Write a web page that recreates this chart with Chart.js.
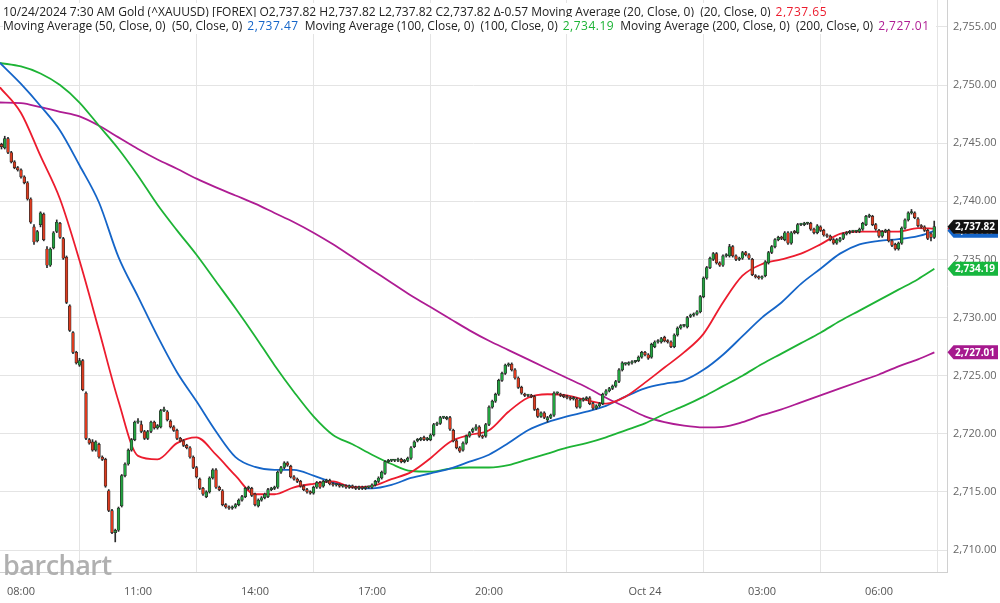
<!DOCTYPE html>
<html>
<head>
<meta charset="utf-8">
<script src="https://cdn.jsdelivr.net/npm/chart.js@4.4.1/dist/chart.umd.min.js"></script>
<style>
  html, body { margin: 0; padding: 0; background: #fff; }
  #wrap { position: relative; width: 1000px; height: 603px; overflow: hidden; }
  #legend { position: absolute; left: 3px; top: 5px; z-index: 2; font: 12px "Open Sans", sans-serif; color: #222; line-height: 14px; white-space: nowrap; }
  #legend div span.line { background: #fff; }
  #legend span.val { margin: 0 6px 0 5px; letter-spacing: 0.5px; }
  #logo { position: absolute; left: 3px; top: 546px; z-index: 2; font: 600 27px "Open Sans", sans-serif; color: #b0b0b0; letter-spacing: -0.5px; }
</style>
</head>
<body>
<div id="wrap">
  <canvas id="chart"></canvas>
  <div id="legend"></div>
  <div id="logo">barchart</div>
</div>
<script>
// 5-minute candles, 07:30 -> 07:25 next day (hours counted from 08:00 on 10/23)
const FIRST_CANDLE = -0.5;
const CANDLE_STEP = 5 / 60;

const opens = [
  2744.9,2744.6,2745.4,2744.2,2743.4,2742.9,2742.7,2742.1,2741.6,2740.2,
  2737.8,2736.6,2738.0,2738.9,2735.9,2734.5,2736.0,2737.4,2738.1,2736.8,
  2735.2,2731.0,2728.7,2727.0,2725.9,2726.3,2723.5,2719.5,2719.3,2718.6,
  2719.1,2718.0,2717.8,2715.1,2713.4,2711.5,2711.7,2713.8,2716.4,2717.4,
  2718.6,2719.5,2721.0,2720.8,2720.2,2719.6,2720.2,2721.0,2720.5,2720.6,
  2722.0,2721.9,2721.1,2720.6,2720.3,2719.6,2719.4,2719.0,2718.8,2718.0,
  2717.1,2716.1,2715.3,2714.6,2715.0,2716.2,2716.9,2715.4,2715.1,2713.9,
  2713.7,2713.6,2713.7,2713.9,2714.3,2714.6,2715.3,2715.3,2714.8,2713.8,
  2714.3,2714.5,2714.6,2715.2,2715.3,2715.4,2716.7,2717.1,2717.5,2717.2,
  2716.3,2716.1,2715.9,2715.5,2715.2,2715.0,2714.9,2715.4,2715.8,2715.5,
  2715.9,2716.0,2715.7,2715.6,2715.6,2715.5,2715.5,2715.4,2715.5,2715.4,
  2715.3,2715.4,2715.3,2715.4,2715.4,2715.6,2715.9,2716.2,2716.6,2717.6,
  2717.7,2717.7,2717.7,2717.8,2717.6,2717.7,2717.9,2718.9,2719.4,2719.5,
  2719.7,2719.5,2719.5,2719.9,2720.8,2720.9,2721.4,2721.3,2721.4,2720.3,
  2719.4,2718.8,2718.6,2719.2,2719.8,2720.2,2720.4,2720.6,2719.8,2719.8,
  2720.8,2722.3,2722.8,2723.4,2724.6,2725.2,2725.9,2726.0,2725.5,2724.8,
  2724.0,2723.4,2723.3,2723.3,2723.2,2722.1,2721.5,2721.8,2721.2,2721.4,
  2721.6,2723.5,2723.4,2723.3,2723.2,2723.1,2723.0,2723.0,2722.3,2722.9,
  2723.0,2723.1,2722.6,2722.2,2722.4,2722.6,2723.4,2723.7,2723.9,2724.1,
  2724.5,2725.5,2726.0,2726.0,2726.1,2726.2,2726.3,2726.6,2727.0,2726.8,
  2726.6,2727.5,2727.9,2727.9,2728.3,2728.0,2727.9,2727.5,2728.5,2729.1,
  2729.3,2729.2,2730.1,2730.2,2730.3,2730.5,2731.8,2733.4,2734.3,2735.0,
  2735.5,2734.7,2734.5,2735.3,2735.3,2736.1,2735.3,2735.0,2735.1,2735.6,
  2735.4,2735.0,2733.6,2733.5,2733.4,2733.6,2734.7,2735.6,2736.1,2736.7,
  2736.9,2736.7,2737.3,2736.4,2737.4,2737.3,2738.0,2738.0,2738.1,2738.1,
  2737.6,2737.3,2737.8,2737.5,2737.1,2737.0,2736.7,2736.4,2736.6,2736.8,
  2737.2,2737.3,2737.4,2737.4,2737.4,2737.6,2738.0,2738.7,2738.7,2738.0,
  2737.5,2737.0,2737.4,2737.5,2736.6,2736.3,2735.9,2736.4,2737.7,2738.4,
  2739.0,2739.0,2738.5,2737.9,2737.8,2737.5,2737.2,2736.9
];
const highs = [
  2745.0,2745.6,2745.5,2744.3,2743.5,2743.0,2742.8,2742.2,2741.7,2740.3,
  2738.0,2737.5,2739.1,2739.0,2736.1,2736.0,2737.4,2738.4,2738.2,2736.9,
  2735.3,2731.1,2728.8,2727.1,2726.5,2726.4,2723.6,2719.6,2719.5,2719.4,
  2719.2,2718.1,2717.9,2715.2,2713.5,2711.8,2713.7,2716.5,2717.5,2718.7,
  2719.6,2721.1,2721.3,2721.1,2720.3,2720.3,2721.1,2721.1,2720.8,2722.1,
  2722.3,2722.0,2721.2,2720.7,2720.4,2719.7,2719.5,2719.1,2718.9,2718.1,
  2717.2,2716.2,2715.4,2715.1,2716.3,2717.0,2717.0,2715.5,2715.2,2714.0,
  2713.8,2713.8,2714.0,2714.4,2714.7,2715.4,2715.5,2715.4,2714.9,2714.4,
  2714.6,2714.9,2715.3,2715.4,2715.5,2716.8,2717.2,2717.6,2717.6,2717.3,
  2716.4,2716.2,2716.0,2715.6,2715.3,2715.1,2715.5,2715.9,2715.9,2716.0,
  2716.1,2716.1,2715.8,2715.7,2715.7,2715.6,2715.6,2715.6,2715.6,2715.5,
  2715.5,2715.5,2715.5,2715.5,2715.7,2716.0,2716.3,2716.8,2717.7,2717.8,
  2717.8,2717.8,2717.9,2717.9,2717.8,2718.0,2718.9,2719.4,2719.6,2719.7,
  2719.8,2719.7,2720.0,2720.9,2721.0,2721.5,2721.5,2721.5,2721.5,2720.4,
  2719.5,2718.9,2719.3,2719.9,2720.2,2720.5,2720.8,2720.7,2719.9,2720.9,
  2722.4,2722.9,2723.5,2724.7,2725.3,2726.0,2726.1,2726.1,2725.6,2724.9,
  2724.1,2723.5,2723.4,2723.4,2723.3,2722.2,2721.9,2721.9,2721.5,2721.7,
  2723.6,2723.6,2723.5,2723.4,2723.3,2723.2,2723.2,2723.1,2723.0,2723.1,
  2723.2,2723.2,2722.7,2722.5,2722.7,2723.5,2723.8,2724.0,2724.2,2724.6,
  2725.6,2726.2,2726.1,2726.2,2726.3,2726.3,2726.7,2727.1,2727.1,2726.9,
  2727.8,2728.0,2728.1,2728.3,2728.4,2728.1,2728.0,2728.6,2729.2,2729.4,
  2729.4,2730.1,2730.3,2730.4,2730.6,2731.9,2733.5,2734.4,2735.2,2735.6,
  2735.6,2734.8,2735.4,2735.5,2736.3,2736.2,2735.4,2735.2,2735.7,2735.7,
  2735.5,2735.1,2733.7,2733.6,2733.6,2734.9,2735.7,2736.2,2736.8,2737.0,
  2737.0,2737.4,2737.4,2737.4,2737.5,2738.1,2738.1,2738.2,2738.2,2738.2,
  2737.7,2738.0,2737.9,2737.6,2737.2,2737.1,2736.8,2736.8,2736.9,2737.3,
  2737.4,2737.5,2737.5,2737.5,2737.7,2738.2,2738.8,2738.9,2738.8,2738.1,
  2737.6,2737.5,2737.6,2737.6,2736.7,2736.4,2736.5,2737.8,2738.5,2739.1,
  2739.3,2739.1,2738.6,2738.0,2737.9,2737.6,2737.3,2738.3
];
const lows = [
  2744.5,2744.5,2744.1,2743.3,2742.8,2742.6,2742.0,2741.5,2740.1,2738.1,
  2736.3,2736.5,2737.8,2736.6,2734.3,2734.4,2735.9,2737.3,2736.8,2735.0,
  2731.2,2728.8,2726.9,2726.0,2725.8,2723.7,2719.5,2719.1,2718.5,2718.5,
  2717.9,2717.7,2715.4,2713.3,2711.4,2710.7,2711.6,2713.7,2716.3,2717.3,
  2718.5,2719.4,2720.9,2720.1,2719.5,2719.5,2720.1,2720.4,2720.4,2720.5,
  2721.9,2721.1,2720.5,2720.2,2719.5,2719.3,2718.9,2718.7,2717.9,2717.0,
  2716.2,2715.2,2714.7,2714.5,2714.9,2716.1,2715.3,2715.1,2713.8,2713.6,
  2713.5,2713.5,2713.6,2713.8,2714.2,2714.5,2715.2,2714.6,2713.8,2713.7,
  2714.2,2714.4,2714.5,2715.1,2715.2,2715.3,2716.6,2717.0,2717.2,2716.2,
  2716.0,2715.8,2715.4,2715.1,2714.9,2714.8,2714.8,2715.3,2715.3,2715.4,
  2715.8,2715.6,2715.5,2715.5,2715.4,2715.4,2715.3,2715.3,2715.3,2715.2,
  2715.2,2715.2,2715.2,2715.3,2715.3,2715.5,2715.8,2716.1,2716.5,2717.5,
  2717.6,2717.6,2717.6,2717.5,2717.5,2717.6,2717.8,2718.8,2719.3,2719.4,
  2719.4,2719.4,2719.4,2719.8,2720.7,2720.8,2721.3,2721.2,2720.3,2719.3,
  2718.7,2718.4,2718.5,2719.1,2719.7,2720.1,2720.3,2719.7,2719.6,2719.7,
  2720.7,2722.2,2722.7,2723.3,2724.5,2725.1,2725.8,2725.4,2724.7,2723.9,
  2723.4,2723.2,2723.2,2723.1,2722.0,2721.4,2721.4,2721.3,2721.0,2721.3,
  2721.5,2723.4,2723.2,2723.1,2723.0,2722.9,2722.9,2722.2,2722.2,2722.8,
  2722.9,2722.5,2722.1,2722.1,2722.3,2722.5,2723.3,2723.6,2723.8,2724.0,
  2724.4,2725.4,2725.9,2725.9,2726.0,2726.1,2726.2,2726.5,2726.7,2726.4,
  2726.5,2727.4,2727.8,2727.8,2727.9,2727.8,2727.4,2727.4,2728.4,2729.0,
  2729.2,2729.1,2730.0,2730.1,2730.2,2730.4,2731.7,2733.3,2734.2,2734.9,
  2734.6,2734.4,2734.4,2735.2,2735.2,2735.2,2734.9,2734.9,2735.0,2735.3,
  2735.0,2733.6,2733.4,2733.3,2733.3,2733.5,2734.6,2735.5,2736.0,2736.6,
  2736.7,2736.6,2736.3,2736.3,2737.2,2737.2,2737.9,2737.9,2738.0,2737.5,
  2737.2,2737.2,2737.4,2737.0,2736.9,2736.6,2736.3,2736.3,2736.5,2736.7,
  2737.1,2737.2,2737.3,2737.3,2737.3,2737.5,2737.9,2738.6,2737.9,2737.5,
  2736.9,2736.9,2737.3,2736.5,2736.1,2735.8,2735.8,2736.3,2737.6,2738.3,
  2738.9,2738.5,2737.8,2737.7,2737.4,2736.7,2736.6,2736.8
];
const closes = [
  2744.7,2745.4,2744.2,2743.4,2742.9,2742.7,2742.1,2741.6,2740.2,2738.2,
  2736.5,2737.4,2739.0,2736.7,2734.5,2735.9,2737.3,2738.2,2736.9,2735.1,
  2731.3,2728.9,2727.0,2726.1,2726.3,2723.8,2719.6,2719.2,2718.6,2719.3,
  2718.0,2717.8,2715.5,2713.4,2711.5,2711.7,2713.6,2716.4,2717.4,2718.6,
  2719.5,2721.0,2721.1,2720.2,2719.6,2720.2,2721.0,2720.5,2720.7,2722.0,
  2722.1,2721.2,2720.6,2720.3,2719.6,2719.4,2719.0,2718.8,2718.0,2717.1,
  2716.3,2715.3,2714.8,2715.0,2716.2,2716.9,2715.4,2715.2,2713.9,2713.7,
  2713.6,2713.7,2713.9,2714.3,2714.6,2715.3,2715.4,2714.7,2713.9,2714.3,
  2714.5,2714.8,2715.2,2715.3,2715.4,2716.7,2717.1,2717.5,2717.3,2716.3,
  2716.1,2715.9,2715.5,2715.2,2715.0,2714.9,2715.4,2715.8,2715.4,2715.9,
  2716.0,2715.7,2715.6,2715.6,2715.5,2715.5,2715.4,2715.5,2715.4,2715.3,
  2715.4,2715.3,2715.4,2715.4,2715.6,2715.9,2716.2,2716.7,2717.6,2717.7,
  2717.7,2717.7,2717.8,2717.6,2717.7,2717.9,2718.8,2719.3,2719.5,2719.6,
  2719.5,2719.6,2719.9,2720.8,2720.9,2721.4,2721.4,2721.4,2720.4,2719.4,
  2718.8,2718.5,2719.2,2719.8,2720.1,2720.4,2720.6,2719.8,2719.7,2720.8,
  2722.3,2722.8,2723.4,2724.6,2725.2,2725.9,2726.0,2725.5,2724.8,2724.0,
  2723.5,2723.3,2723.3,2723.2,2722.1,2721.5,2721.8,2721.4,2721.4,2721.6,
  2723.5,2723.5,2723.3,2723.2,2723.1,2723.0,2723.1,2722.3,2722.9,2723.0,
  2723.1,2722.6,2722.2,2722.4,2722.6,2723.4,2723.7,2723.9,2724.1,2724.5,
  2725.5,2726.1,2726.0,2726.1,2726.2,2726.2,2726.6,2727.0,2726.8,2726.5,
  2727.7,2727.9,2728.0,2728.2,2728.0,2727.9,2727.5,2728.5,2729.1,2729.3,
  2729.3,2730.0,2730.2,2730.3,2730.5,2731.8,2733.4,2734.3,2735.1,2735.5,
  2734.7,2734.5,2735.3,2735.4,2736.1,2735.3,2735.0,2735.1,2735.6,2735.4,
  2735.1,2733.7,2733.5,2733.4,2733.5,2734.8,2735.6,2736.1,2736.7,2736.9,
  2736.8,2737.3,2736.4,2737.3,2737.3,2738.0,2738.0,2738.1,2738.1,2737.6,
  2737.3,2737.9,2737.5,2737.1,2737.0,2736.7,2736.4,2736.7,2736.8,2737.2,
  2737.3,2737.4,2737.4,2737.4,2737.6,2738.1,2738.7,2738.7,2738.0,2737.6,
  2737.0,2737.4,2737.5,2736.6,2736.2,2735.9,2736.4,2737.7,2738.4,2739.0,
  2739.1,2738.6,2737.9,2737.8,2737.5,2736.8,2736.9,2737.82
];

// Moving averages at half-hour steps
const maTimes = [-0.54,0,0.5,1,1.5,2,2.5,3,3.5,4,4.5,5,5.5,6,6.5,7,7.5,8,8.5,9,9.5,10,10.5,11,11.5,12,
  12.5,13,13.5,14,14.5,15,15.5,16,16.5,17,17.5,18,18.5,19,19.5,20,20.5,21,21.5,22,22.5,23,23.42];
const ma20 = [2749.8,2747.6,2743.9,2740.2,2734.9,2728.9,2722.8,2718.1,2717.8,2719.2,2719.7,2718.2,2716.4,
  2714.8,2714.8,2715.4,2715.7,2715.9,2715.4,2715.5,2716.1,2716.7,2717.9,2719.3,2719.9,2720.3,2721.9,2723.1,
  2723.4,2723.3,2722.9,2722.6,2723.2,2724.4,2725.7,2727.0,2728.6,2731.3,2733.6,2734.6,2735.0,2735.5,2736.3,
  2737.2,2737.4,2737.4,2737.4,2737.7,2737.65];
const ma50 = [2751.9,2750.1,2748.2,2746.1,2743.1,2739.9,2735.2,2731.8,2728.4,2725.3,2722.8,2720.2,2718.0,
  2717.15,2716.9,2716.9,2716.4,2715.8,2715.45,2715.3,2715.6,2716.2,2716.6,2717.0,2717.6,2718.2,2719.2,2720.3,
  2721.0,2721.5,2721.9,2722.4,2723.2,2723.9,2724.3,2724.6,2725.5,2726.8,2728.4,2730.0,2731.3,2732.9,2734.2,
  2735.5,2736.3,2736.6,2736.75,2737.0,2737.45];
const ma100 = [2751.9,2751.6,2751.0,2750.0,2748.5,2746.5,2744.5,2742.2,2739.7,2737.5,2735.4,2733.1,2730.8,
  2728.4,2725.9,2723.6,2721.5,2719.9,2719.1,2718.2,2717.4,2716.8,2716.75,2717.0,2717.1,2717.1,2717.3,2717.8,
  2718.3,2718.8,2719.2,2719.7,2720.3,2720.9,2721.7,2722.4,2723.2,2724.1,2725.0,2726.0,2726.9,2727.8,2728.7,
  2729.7,2730.6,2731.5,2732.4,2733.3,2734.19];
const ma200 = [2748.5,2748.45,2748.1,2747.7,2747.3,2746.5,2745.5,2744.5,2743.6,2742.8,2741.95,2741.2,2740.5,
  2739.8,2739.0,2738.2,2737.3,2736.3,2735.2,2734.1,2733.0,2731.9,2730.9,2729.9,2728.9,2728.0,2727.2,2726.4,
  2725.6,2724.8,2724.0,2723.1,2722.3,2721.5,2721.0,2720.7,2720.55,2720.6,2721.0,2721.6,2722.1,2722.7,2723.3,
  2723.9,2724.5,2725.1,2725.8,2726.4,2727.0];

// Axes
const tickHours = [0, 3, 6, 9, 12, 16, 19, 22];
const tickLabels = ['08:00', '11:00', '14:00', '17:00', '20:00', 'Oct 24', '03:00', '06:00'];
const priceTicks = [2710, 2715, 2720, 2725, 2730, 2735, 2740, 2745, 2750, 2755];
const X_MIN = -0.5385, X_MAX = 23.744;
const Y_MIN = 2708.11, Y_MAX = 2757.32;

// Last values shown in the legend and in the right-hand tags
const lastPrice = 2737.82;
const lastChange = -0.57;
const maNames = ['20', '50', '100', '200'];
const maLast = [2737.65, 2737.47, 2734.19, 2727.01];
const maColors = ['#ec1c2e', '#1565c8', '#1db335', '#ae1c93'];
const tagFills = ['#1565c8', '#16b63e', '#a6198e'];

const fmt = v => {
  const [a, b] = v.toFixed(2).split('.');
  return a.replace(/\B(?=(\d{3})+(?!\d))/g, ',') + '.' + b;
};

// Legend (top-left)
const legend = document.getElementById('legend');
const maText = i => `Moving Average (${maNames[i]}, Close, 0)&nbsp; (${maNames[i]}, Close, 0)<span class="val" style="color:${maColors[i]}">${fmt(maLast[i])}</span>`;
legend.innerHTML =
  `<div><span class="line">10/24/2024 7:30 AM Gold (^XAUUSD) [FOREX] O${fmt(lastPrice)} H${fmt(lastPrice)} L${fmt(lastPrice)} C${fmt(lastPrice)} &Delta;${lastChange.toFixed(2)} ${maText(0)}</span></div>` +
  `<div><span class="line">${maText(1)}${maText(2)}${maText(3)}</span></div>`;

const times = opens.map((_, i) => FIRST_CANDLE + i * CANDLE_STEP);
const isUp = opens.map((o, i) => closes[i] >= o);

const maDataset = (vals, color) => ({
  type: 'line',
  data: maTimes.map((t, i) => ({ x: t, y: vals[i] })),
  borderColor: color,
  borderWidth: 1.8,
  pointRadius: 0,
  tension: 0.4,
  cubicInterpolationMode: 'monotone'
});

// Price tags on the right axis
const tagPlugin = {
  id: 'tags',
  afterDraw(chart) {
    const { ctx, chartArea, scales: { y } } = chart;
    const tags = [
      { v: maLast[3], fill: tagFills[2] },
      { v: maLast[2], fill: tagFills[1] },
      { v: maLast[0], fill: maColors[0] },
      { v: maLast[1], fill: tagFills[0] },
      { v: lastPrice, fill: '#111' }
    ];
    ctx.save();
    tags.forEach(t => {
      const py = y.getPixelForValue(t.v);
      const x0 = chartArea.right + 0.5;
      ctx.fillStyle = t.fill;
      ctx.beginPath();
      ctx.moveTo(x0, py);
      ctx.lineTo(x0 + 6, py - 7);
      ctx.lineTo(998, py - 7);
      ctx.lineTo(998, py + 7);
      ctx.lineTo(x0 + 6, py + 7);
      ctx.closePath();
      ctx.fill();
      ctx.fillStyle = '#fff';
      ctx.font = 'bold 10px "Open Sans", sans-serif';
      ctx.textAlign = 'center';
      ctx.textBaseline = 'middle';
      ctx.fillText(fmt(t.v), 975, py + 0.5);
    });
    ctx.restore();
  }
};

new Chart(document.getElementById('chart'), {
  type: 'bar',
  data: {
    datasets: [
      {
        // candle bodies
        data: times.map((t, i) => ({ x: t, y: [opens[i], closes[i]] })),
        backgroundColor: isUp.map(u => u ? '#22a23f' : '#dc3b1f'),
        borderColor: '#2a2a2a',
        borderWidth: 0.7,
        borderSkipped: false,
        barThickness: 2.8,
        minBarLength: 1.4,
        grouped: false
      },
      {
        // wicks
        data: times.map((t, i) => ({ x: t, y: [lows[i], highs[i]] })),
        backgroundColor: '#2a2a2a',
        barThickness: 1,
        grouped: false
      },
      maDataset(ma20, maColors[0]),
      maDataset(ma50, maColors[1]),
      maDataset(ma100, maColors[2]),
      maDataset(ma200, maColors[3])
    ]
  },
  options: {
    responsive: true,
    maintainAspectRatio: false,
    animation: false,
    layout: { padding: 0 },
    plugins: { legend: { display: false }, tooltip: { enabled: false } },
    scales: {
      x: {
        type: 'linear',
        min: X_MIN,
        max: X_MAX,
        offset: false,
        afterBuildTicks: s => { s.ticks = tickHours.map(v => ({ value: v })); },
        afterFit: s => { s.height = 31; s.paddingLeft = 0; s.paddingRight = 0; },
        grid: { color: '#e4e4e4', drawTicks: false },
        border: { color: '#d0d0d0' },
        ticks: {
          color: '#555',
          font: { size: 11, family: '"Open Sans", sans-serif' },
          padding: 13,
          maxRotation: 0,
          autoSkip: false,
          callback: (v, i) => tickLabels[i]
        }
      },
      y: {
        position: 'right',
        min: Y_MIN,
        max: Y_MAX,
        afterBuildTicks: s => { s.ticks = priceTicks.map(v => ({ value: v })); },
        afterFit: s => { s.width = 53; s.paddingTop = 0; s.paddingBottom = 0; },
        grid: { color: '#e4e4e4', drawTicks: false },
        border: { color: '#d0d0d0' },
        ticks: {
          color: '#666',
          font: { size: 11, family: '"Open Sans", sans-serif' },
          padding: 6,
          callback: v => fmt(v)
        }
      }
    }
  },
  plugins: [tagPlugin]
});
</script>
</body>
</html>
